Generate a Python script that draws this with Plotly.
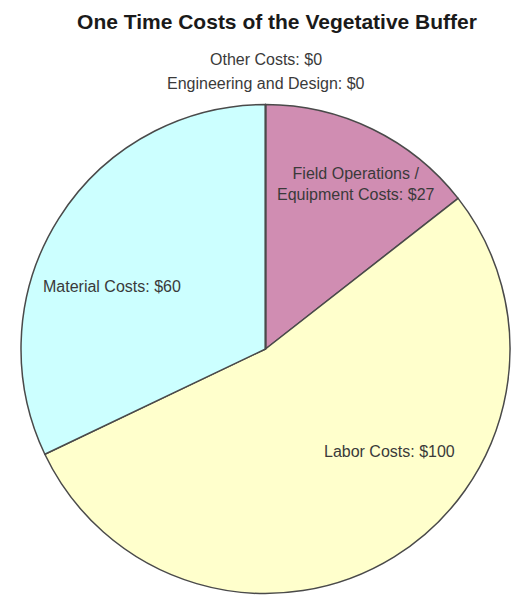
import plotly.graph_objects as go

# One-time cost components of the vegetative buffer (dollars)
labels = [
    "Field Operations / Equipment Costs",
    "Labor Costs",
    "Material Costs",
    "Engineering and Design",
    "Other Costs",
]
values = [27, 100, 60, 0, 0]
colors = ["#D08DB2", "#FFFFCC", "#CCFFFF", "#9999FF", "#FF9999"]

W, H = 521, 597


def px(x, y):
    """Pixel position -> paper coordinates."""
    return x / W, 1 - y / H


def label_text(name, val):
    text = f"{name}: ${val}"
    if " / " in name:
        head, tail = name.split(" / ", 1)
        text = f"{head} /<br>{tail}: ${val}"
    return text


fig = go.Figure(
    go.Pie(
        labels=labels,
        values=values,
        sort=False,
        direction="clockwise",
        rotation=0,
        marker=dict(colors=colors, line=dict(color="#4a4a4a", width=1.5)),
        textinfo="none",
        hoverinfo="label+value",
        showlegend=False,
        domain=dict(x=[21 / W, 510 / W], y=[1 - 594 / H, 1 - 104 / H]),
    )
)

# Label anchor points (pixel centres) for each slice
label_pos = [(356, 184), (389, 451), (112, 286), (266, 83), (266, 60)]
font_lab = dict(family="Liberation Sans, Arial, sans-serif", size=16, color="#3a3a3a")
for name, val, (lx, ly) in zip(labels, values, label_pos):
    ax, ay = px(lx, ly)
    fig.add_annotation(
        x=ax, y=ay, xref="paper", yref="paper",
        text=label_text(name, val), showarrow=False,
        font=font_lab, xanchor="center", yanchor="middle", align="center",
    )

fig.update_layout(
    width=W,
    height=H,
    margin=dict(l=0, r=0, t=0, b=0),
    paper_bgcolor="white",
    plot_bgcolor="white",
    title=dict(
        text="<b>One Time Costs of the Vegetative Buffer</b>",
        x=277 / W, xanchor="center", y=1 - 22 / H, yanchor="middle",
        font=dict(family="Liberation Sans, Arial, sans-serif", size=21, color="#1a1a1a"),
    ),
)

fig.write_html("out.html")
